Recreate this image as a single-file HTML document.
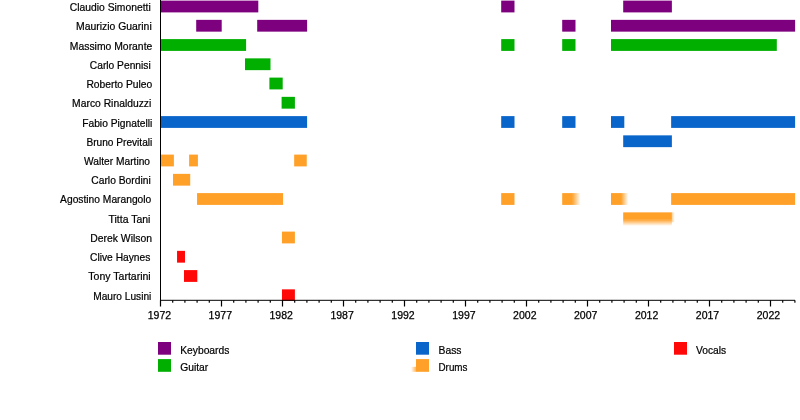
<!DOCTYPE html>
<html><head><meta charset="utf-8"><title>Timeline</title>
<style>
html,body{margin:0;padding:0;background:#fff;}
body{width:800px;height:420px;overflow:hidden;}
svg{display:block;}
text{font-family:"Liberation Sans",sans-serif;font-size:11.2px;fill:#000;stroke:#000;stroke-width:0.22px;}
.yr{font-size:10.4px;stroke-width:0.25px;}
</style></head><body>
<svg width="800" height="420" viewBox="0 0 800 420">
<defs>
<linearGradient id="fr" x1="0" y1="0" x2="1" y2="0"><stop offset="0" stop-color="#ffa029" stop-opacity="1"/><stop offset="1" stop-color="#ffa029" stop-opacity="0"/></linearGradient>
<linearGradient id="fd" x1="0" y1="0" x2="0" y2="1"><stop offset="0" stop-color="#ffa029" stop-opacity="1"/><stop offset="1" stop-color="#ffa029" stop-opacity="0"/></linearGradient>
<linearGradient id="fl" x1="0" y1="0" x2="1" y2="0"><stop offset="0" stop-color="#ffa029" stop-opacity="0"/><stop offset="1" stop-color="#ffa029" stop-opacity="0.8"/></linearGradient>
</defs>
<rect width="800" height="420" fill="#fff"/>

<rect x="160.40" y="0.60" width="97.90" height="11.80" fill="#7d007e"/>
<rect x="501.20" y="0.60" width="13.30" height="11.80" fill="#7d007e"/>
<rect x="623.20" y="0.60" width="48.68" height="11.80" fill="#7d007e"/>
<rect x="196.20" y="19.85" width="25.50" height="11.80" fill="#7d007e"/>
<rect x="257.20" y="19.85" width="49.90" height="11.80" fill="#7d007e"/>
<rect x="562.20" y="19.85" width="13.30" height="11.80" fill="#7d007e"/>
<rect x="611.00" y="19.85" width="184.10" height="11.80" fill="#7d007e"/>
<rect x="160.40" y="39.10" width="85.70" height="11.80" fill="#00af00"/>
<rect x="501.20" y="39.10" width="13.30" height="11.80" fill="#00af00"/>
<rect x="562.20" y="39.10" width="13.30" height="11.80" fill="#00af00"/>
<rect x="611.00" y="39.10" width="165.80" height="11.80" fill="#00af00"/>
<rect x="245.00" y="58.35" width="25.50" height="11.80" fill="#00af00"/>
<rect x="269.40" y="77.60" width="13.30" height="11.80" fill="#00af00"/>
<rect x="281.60" y="96.85" width="13.30" height="11.80" fill="#00af00"/>
<rect x="160.40" y="116.10" width="146.70" height="11.80" fill="#0965ca"/>
<rect x="501.20" y="116.10" width="13.30" height="11.80" fill="#0965ca"/>
<rect x="562.20" y="116.10" width="13.30" height="11.80" fill="#0965ca"/>
<rect x="611.00" y="116.10" width="13.30" height="11.80" fill="#0965ca"/>
<rect x="671.15" y="116.10" width="123.95" height="11.80" fill="#0965ca"/>
<rect x="623.20" y="135.35" width="48.68" height="11.80" fill="#0965ca"/>
<rect x="160.40" y="154.60" width="13.48" height="11.80" fill="#ffa029"/>
<rect x="189.12" y="154.60" width="8.79" height="11.80" fill="#ffa029"/>
<rect x="294.17" y="154.60" width="12.57" height="11.80" fill="#ffa029"/>
<rect x="173.02" y="173.85" width="17.20" height="11.80" fill="#ffa029"/>
<rect x="197.05" y="193.10" width="86.01" height="11.80" fill="#ffa029"/>
<rect x="501.20" y="193.10" width="13.30" height="11.80" fill="#ffa029"/>
<rect x="562.20" y="193.10" width="10.20" height="11.80" fill="#ffa029"/>
<rect x="611.00" y="193.10" width="10.20" height="11.80" fill="#ffa029"/>
<rect x="671.15" y="193.10" width="123.95" height="11.80" fill="#ffa029"/>
<rect x="623.20" y="212.35" width="48.68" height="7.40" fill="#ffa029"/>
<rect x="281.97" y="231.60" width="12.93" height="11.80" fill="#ffa029"/>
<rect x="177.05" y="250.85" width="7.93" height="11.80" fill="#ff0808"/>
<rect x="184.00" y="270.10" width="13.30" height="11.80" fill="#ff0808"/>
<rect x="281.97" y="289.35" width="12.93" height="11.80" fill="#ff0808"/>
<rect x="572.10" y="193.10" width="8.5" height="11.8" fill="url(#fr)"/>
<rect x="620.90" y="193.10" width="7.5" height="11.8" fill="url(#fr)"/>
<rect x="623.20" y="219.45" width="48.68" height="6.5" fill="url(#fd)"/>
<rect x="671.78" y="212.35" width="3" height="9.8" fill="url(#fr)" opacity="0.5"/>
<text x="69.80" y="11.20" textLength="80.90" lengthAdjust="spacingAndGlyphs">Claudio Simonetti</text>
<text x="76.00" y="30.42" textLength="75.70" lengthAdjust="spacingAndGlyphs">Maurizio Guarini</text>
<text x="69.80" y="49.64" textLength="82.50" lengthAdjust="spacingAndGlyphs">Massimo Morante</text>
<text x="89.80" y="68.86" textLength="60.90" lengthAdjust="spacingAndGlyphs">Carlo Pennisi</text>
<text x="86.40" y="88.08" textLength="65.90" lengthAdjust="spacingAndGlyphs">Roberto Puleo</text>
<text x="72.10" y="107.30" textLength="79.20" lengthAdjust="spacingAndGlyphs">Marco Rinalduzzi</text>
<text x="82.20" y="126.52" textLength="70.10" lengthAdjust="spacingAndGlyphs">Fabio Pignatelli</text>
<text x="86.40" y="145.74" textLength="65.90" lengthAdjust="spacingAndGlyphs">Bruno Previtali</text>
<text x="84.10" y="164.96" textLength="65.90" lengthAdjust="spacingAndGlyphs">Walter Martino</text>
<text x="91.30" y="184.18" textLength="59.40" lengthAdjust="spacingAndGlyphs">Carlo Bordini</text>
<text x="60.10" y="203.40" textLength="91.20" lengthAdjust="spacingAndGlyphs">Agostino Marangolo</text>
<text x="108.50" y="222.62" textLength="41.90" lengthAdjust="spacingAndGlyphs">Titta Tani</text>
<text x="90.30" y="241.84" textLength="61.70" lengthAdjust="spacingAndGlyphs">Derek Wilson</text>
<text x="90.00" y="261.06" textLength="60.40" lengthAdjust="spacingAndGlyphs">Clive Haynes</text>
<text x="88.35" y="280.28" textLength="62.35" lengthAdjust="spacingAndGlyphs">Tony Tartarini</text>
<text x="93.20" y="299.50" textLength="58.10" lengthAdjust="spacingAndGlyphs">Mauro Lusini</text>
<rect x="0" y="300.80" width="800" height="6" fill="#fff"/>
<rect x="160" y="0" width="1" height="300.80" fill="#000"/>
<rect x="160" y="299.80" width="635" height="1" fill="#000"/>
<rect x="159.90" y="300.30" width="1.2" height="6.2" fill="#000"/>
<text class="yr" x="147.70" y="318.65" textLength="23.4" lengthAdjust="spacingAndGlyphs">1972</text>
<rect x="172.10" y="300.30" width="1.2" height="2.4" fill="#000"/>
<rect x="184.30" y="300.30" width="1.2" height="2.4" fill="#000"/>
<rect x="196.50" y="300.30" width="1.2" height="2.4" fill="#000"/>
<rect x="208.70" y="300.30" width="1.2" height="2.4" fill="#000"/>
<rect x="220.90" y="300.30" width="1.2" height="6.2" fill="#000"/>
<text class="yr" x="208.60" y="318.65" textLength="23.4" lengthAdjust="spacingAndGlyphs">1977</text>
<rect x="233.10" y="300.30" width="1.2" height="2.4" fill="#000"/>
<rect x="245.30" y="300.30" width="1.2" height="2.4" fill="#000"/>
<rect x="257.50" y="300.30" width="1.2" height="2.4" fill="#000"/>
<rect x="269.70" y="300.30" width="1.2" height="2.4" fill="#000"/>
<rect x="281.90" y="300.30" width="1.2" height="6.2" fill="#000"/>
<text class="yr" x="269.50" y="318.65" textLength="23.4" lengthAdjust="spacingAndGlyphs">1982</text>
<rect x="294.10" y="300.30" width="1.2" height="2.4" fill="#000"/>
<rect x="306.30" y="300.30" width="1.2" height="2.4" fill="#000"/>
<rect x="318.50" y="300.30" width="1.2" height="2.4" fill="#000"/>
<rect x="330.70" y="300.30" width="1.2" height="2.4" fill="#000"/>
<rect x="342.90" y="300.30" width="1.2" height="6.2" fill="#000"/>
<text class="yr" x="330.40" y="318.65" textLength="23.4" lengthAdjust="spacingAndGlyphs">1987</text>
<rect x="355.10" y="300.30" width="1.2" height="2.4" fill="#000"/>
<rect x="367.30" y="300.30" width="1.2" height="2.4" fill="#000"/>
<rect x="379.50" y="300.30" width="1.2" height="2.4" fill="#000"/>
<rect x="391.70" y="300.30" width="1.2" height="2.4" fill="#000"/>
<rect x="403.90" y="300.30" width="1.2" height="6.2" fill="#000"/>
<text class="yr" x="391.30" y="318.65" textLength="23.4" lengthAdjust="spacingAndGlyphs">1992</text>
<rect x="416.10" y="300.30" width="1.2" height="2.4" fill="#000"/>
<rect x="428.30" y="300.30" width="1.2" height="2.4" fill="#000"/>
<rect x="440.50" y="300.30" width="1.2" height="2.4" fill="#000"/>
<rect x="452.70" y="300.30" width="1.2" height="2.4" fill="#000"/>
<rect x="464.90" y="300.30" width="1.2" height="6.2" fill="#000"/>
<text class="yr" x="452.20" y="318.65" textLength="23.4" lengthAdjust="spacingAndGlyphs">1997</text>
<rect x="477.10" y="300.30" width="1.2" height="2.4" fill="#000"/>
<rect x="489.30" y="300.30" width="1.2" height="2.4" fill="#000"/>
<rect x="501.50" y="300.30" width="1.2" height="2.4" fill="#000"/>
<rect x="513.70" y="300.30" width="1.2" height="2.4" fill="#000"/>
<rect x="525.90" y="300.30" width="1.2" height="6.2" fill="#000"/>
<text class="yr" x="513.10" y="318.65" textLength="23.4" lengthAdjust="spacingAndGlyphs">2002</text>
<rect x="538.10" y="300.30" width="1.2" height="2.4" fill="#000"/>
<rect x="550.30" y="300.30" width="1.2" height="2.4" fill="#000"/>
<rect x="562.50" y="300.30" width="1.2" height="2.4" fill="#000"/>
<rect x="574.70" y="300.30" width="1.2" height="2.4" fill="#000"/>
<rect x="586.90" y="300.30" width="1.2" height="6.2" fill="#000"/>
<text class="yr" x="574.00" y="318.65" textLength="23.4" lengthAdjust="spacingAndGlyphs">2007</text>
<rect x="599.10" y="300.30" width="1.2" height="2.4" fill="#000"/>
<rect x="611.30" y="300.30" width="1.2" height="2.4" fill="#000"/>
<rect x="623.50" y="300.30" width="1.2" height="2.4" fill="#000"/>
<rect x="635.70" y="300.30" width="1.2" height="2.4" fill="#000"/>
<rect x="647.90" y="300.30" width="1.2" height="6.2" fill="#000"/>
<text class="yr" x="634.90" y="318.65" textLength="23.4" lengthAdjust="spacingAndGlyphs">2012</text>
<rect x="660.10" y="300.30" width="1.2" height="2.4" fill="#000"/>
<rect x="672.30" y="300.30" width="1.2" height="2.4" fill="#000"/>
<rect x="684.50" y="300.30" width="1.2" height="2.4" fill="#000"/>
<rect x="696.70" y="300.30" width="1.2" height="2.4" fill="#000"/>
<rect x="708.90" y="300.30" width="1.2" height="6.2" fill="#000"/>
<text class="yr" x="695.80" y="318.65" textLength="23.4" lengthAdjust="spacingAndGlyphs">2017</text>
<rect x="721.10" y="300.30" width="1.2" height="2.4" fill="#000"/>
<rect x="733.30" y="300.30" width="1.2" height="2.4" fill="#000"/>
<rect x="745.50" y="300.30" width="1.2" height="2.4" fill="#000"/>
<rect x="757.70" y="300.30" width="1.2" height="2.4" fill="#000"/>
<rect x="769.90" y="300.30" width="1.2" height="6.2" fill="#000"/>
<text class="yr" x="756.70" y="318.65" textLength="23.4" lengthAdjust="spacingAndGlyphs">2022</text>
<rect x="782.10" y="300.30" width="1.2" height="2.4" fill="#000"/>
<rect x="794.30" y="300.30" width="1.2" height="2.4" fill="#000"/>
<rect x="158" y="342" width="13" height="12.7" fill="#7d007e"/>
<text x="180.2" y="353.70" textLength="49.2" lengthAdjust="spacingAndGlyphs">Keyboards</text>
<rect x="158" y="359.1" width="13" height="12.7" fill="#00af00"/>
<text x="180.2" y="370.80" textLength="28" lengthAdjust="spacingAndGlyphs">Guitar</text>
<rect x="416" y="342" width="13" height="12.7" fill="#0965ca"/>
<text x="438.5" y="353.70" textLength="23" lengthAdjust="spacingAndGlyphs">Bass</text>
<rect x="416" y="359.1" width="13" height="12.7" fill="#ffa029"/>
<text x="438.5" y="370.80" textLength="29" lengthAdjust="spacingAndGlyphs">Drums</text>
<rect x="674" y="342" width="13" height="12.7" fill="#ff0808"/>
<text x="696" y="353.70" textLength="30.2" lengthAdjust="spacingAndGlyphs">Vocals</text>
<rect x="411" y="366.8" width="5.2" height="5" fill="url(#fl)"/>
</svg></body></html>
